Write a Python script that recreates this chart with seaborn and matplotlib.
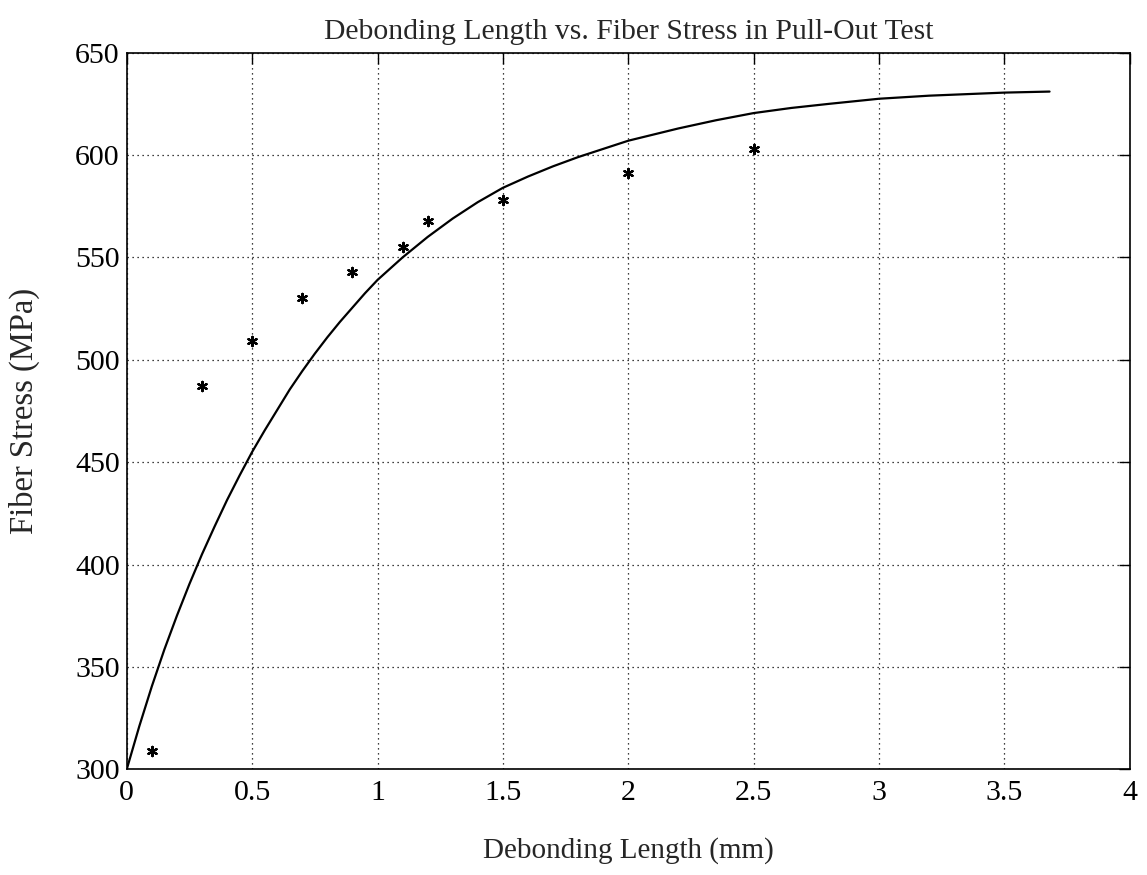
import matplotlib
matplotlib.use("Agg")
import matplotlib.pyplot as plt
import seaborn as sns
import pandas as pd

# Measured data (asterisks)
meas_length = [0.1, 0.3, 0.5, 0.7, 0.9, 1.1, 1.2, 1.5, 2.0, 2.5]
meas_stress = [309, 487, 509, 530, 543, 555, 568, 578, 591, 603]

# Model curve, values
curve_length = [0, 0.05, 0.1, 0.15, 0.2, 0.25, 0.3, 0.35, 0.4, 0.45, 0.5,
                0.55, 0.6, 0.65, 0.7, 0.75, 0.8, 0.85, 0.9, 0.95, 1.0,
                1.1, 1.2, 1.3, 1.4, 1.5, 1.6, 1.7, 1.8, 1.9, 2.0, 2.1, 2.2,
                2.35, 2.5, 2.65, 2.8, 3.0, 3.2, 3.5, 3.68]
curve_stress = [300, 321, 340.5, 358.5, 375, 390.5, 405, 418.5, 431.5, 443.5, 455,
                465.5, 475.5, 485.5, 494.5, 503, 511, 518.5, 525.5, 532.5, 539,
                550, 560, 569, 577, 584, 589.5, 594.5, 599, 603, 607, 610, 613,
                617, 620.5, 623, 625, 627.5, 629, 630.5, 631]

x_ticks = [0, 0.5, 1, 1.5, 2, 2.5, 3, 3.5, 4]
x_tick_labels = ["0", "0.5", "1", "1.5", "2", "2.5", "3", "3.5", "4"]
y_ticks = [300, 350, 400, 450, 500, 550, 600, 650]

title = "Debonding Length vs. Fiber Stress in Pull-Out Test"
xlabel = "Debonding Length (mm)"
ylabel = "Fiber Stress (MPa)"

sns.set_theme(style="white")
plt.rcParams["font.family"] = ["Liberation Serif", "DejaVu Serif"]

curve_df = pd.DataFrame({"x": curve_length, "y": curve_stress})
meas_df = pd.DataFrame({"x": meas_length, "y": meas_stress})

fig = plt.figure(figsize=(11.47, 8.75), dpi=100)
ax = fig.add_axes([0.1105, 0.1208, 0.8745, 0.819])

sns.lineplot(data=curve_df, x="x", y="y", ax=ax, color="black", linewidth=1.6,
             sort=False, estimator=None)
sns.scatterplot(data=meas_df, x="x", y="y", ax=ax, color="black",
                marker=(6, 2, 0), s=45, linewidth=1.6, edgecolor="black")

ax.set_xlim(0, 4)
ax.set_ylim(300, 650)
ax.set_xticks(x_ticks)
ax.set_xticklabels(x_tick_labels)
ax.set_yticks(y_ticks)

ax.grid(True, color="black", linestyle=(0, (1, 3)), linewidth=0.9)
for s in ax.spines.values():
    s.set_color("black")
    s.set_linewidth(1.2)

ax.tick_params(axis="both", which="major", direction="in", length=8, width=1,
               top=True, right=True, labelsize=21.5, colors="black")
ax.tick_params(axis="x", pad=8)
ax.tick_params(axis="y", pad=5)

ax.set_title(title, fontsize=21.3, pad=10)
ax.set_xlabel(xlabel, fontsize=21, labelpad=22)
ax.set_ylabel(ylabel, fontsize=23.5, labelpad=25)

fig.savefig("out.png", dpi=100)
